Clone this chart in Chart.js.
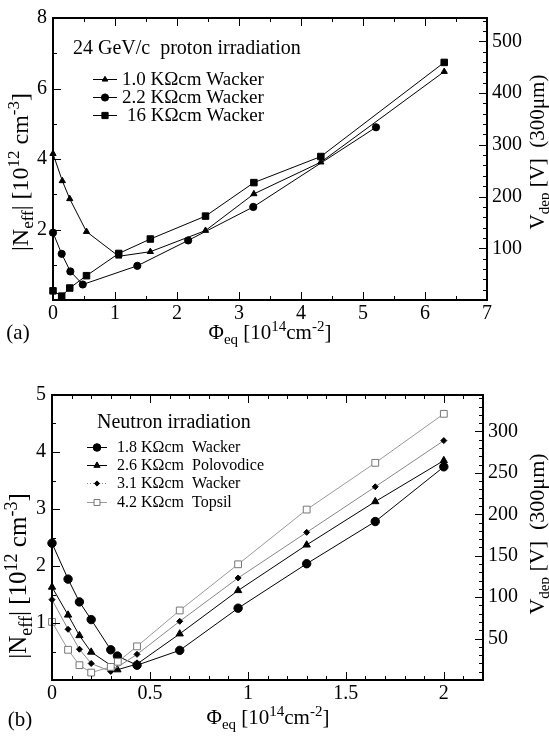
<!DOCTYPE html>
<html>
<head>
<meta charset="utf-8">
<script src="https://cdn.jsdelivr.net/npm/chart.js@4.4.1/dist/chart.umd.min.js"></script>
<style>
html, body { margin: 0; padding: 0; background: #fff; }
#wrap { position: relative; width: 549px; height: 737px; }
canvas { position: absolute; left: 0; }
</style>
</head>
<body>
<div id="wrap">
  <canvas id="protonChart" width="549" height="365" style="top:0"></canvas>
  <canvas id="neutronChart" width="549" height="372" style="top:365px"></canvas>
</div>
<script>
// (a) 24 GeV/c proton irradiation, |Neff| in 1e12 cm^-3 vs fluence in 1e14 cm^-2
const wacker10X = [0, 0.15, 0.27, 0.54, 1.06, 1.57, 2.46, 3.24, 4.32, 6.31];
const wacker10Y = [4.15, 3.38, 2.87, 1.94, 1.24, 1.37, 1.97, 3.01, 3.91, 6.48];
const wacker22X = [0, 0.14, 0.28, 0.48, 1.36, 2.18, 3.23, 5.21];
const wacker22Y = [1.91, 1.31, 0.81, 0.44, 0.97, 1.69, 2.64, 4.90];
const wacker16X = [0, 0.14, 0.27, 0.54, 1.06, 1.57, 2.46, 3.24, 4.32, 6.31];
const wacker16Y = [0.26, 0.11, 0.34, 0.69, 1.32, 1.73, 2.38, 3.33, 4.07, 6.74];

// (b) neutron irradiation
const wacker18X = [0, 0.082, 0.14, 0.2, 0.3, 0.334, 0.434, 0.652, 0.95, 1.3, 1.65, 2.0];
const wacker18Y = [2.40, 1.77, 1.37, 1.06, 0.53, 0.42, 0.26, 0.52, 1.26, 2.04, 2.78, 3.74];
const polo26X = [0, 0.082, 0.14, 0.2, 0.334, 0.434, 0.652, 0.95, 1.3, 1.65, 2.0];
const polo26Y = [1.63, 1.14, 0.78, 0.49, 0.18, 0.28, 0.81, 1.57, 2.37, 3.13, 3.85];
const wacker31X = [0, 0.082, 0.14, 0.2, 0.3, 0.434, 0.652, 0.95, 1.3, 1.65, 2.0];
const wacker31Y = [1.41, 0.89, 0.54, 0.29, 0.15, 0.45, 1.03, 1.79, 2.59, 3.39, 4.20];
const topsil42X = [0, 0.082, 0.14, 0.2, 0.3, 0.336, 0.434, 0.652, 0.95, 1.3, 1.65, 2.0];
const topsil42Y = [1.02, 0.53, 0.26, 0.13, 0.23, 0.32, 0.59, 1.22, 2.03, 2.99, 3.81, 4.67];

// tick labels
const protonXTicks = [0, 1, 2, 3, 4, 5, 6, 7];
const protonNTicks = [2, 4, 6, 8];
const protonVTicks = [100, 200, 300, 400, 500];
const neutronXTicks = [0, 0.5, 1, 1.5, 2];
const neutronNTicks = [1, 2, 3, 4, 5];
const neutronVTicks = [50, 100, 150, 200, 250, 300];

const FONT = '"Liberation Serif", "Times New Roman", serif';
Chart.defaults.font.family = FONT;
Chart.defaults.color = '#000';

function pts(xs, ys) {
    return xs.map((x, i) => ({ x: x, y: ys[i] }));
}

// inward tick marks: [value, length]
function tickList(min, max, step, majorEvery) {
    const out = [];
    const n = Math.round((max - min) / step);
    for (let i = 0; i <= n; i++) {
        const v = +(min + i * step).toFixed(4);
        out.push([v, i % majorEvery === 0 ? 8 : 4]);
    }
    return out;
}

function richText(ctx, parts, x, y, size, rot, align) {
    ctx.save();
    ctx.translate(x, y);
    if (rot) ctx.rotate(rot);
    const small = Math.round(size * 0.7);
    let total = 0;
    const widths = parts.map(p => {
        ctx.font = (p[1] ? small : size) + 'px ' + FONT;
        const w = ctx.measureText(p[0]).width;
        total += w;
        return w;
    });
    let cx = align === 'left' ? 0 : -total / 2;
    ctx.fillStyle = '#000';
    ctx.textBaseline = 'alphabetic';
    ctx.textAlign = 'left';
    parts.forEach((p, i) => {
        ctx.font = (p[1] ? small : size) + 'px ' + FONT;
        let dy = 0;
        if (p[1] === 1) dy = size * 0.22;
        if (p[1] === 2) dy = -size * 0.38;
        ctx.fillText(p[0], cx, size * 0.33 + dy);
        cx += widths[i];
    });
    ctx.restore();
}

function drawMarker(ctx, style, x, y, r, fill, stroke) {
    ctx.save();
    ctx.fillStyle = fill;
    ctx.strokeStyle = stroke;
    ctx.lineWidth = 1;
    ctx.setLineDash([]);
    Chart.helpers.drawPoint(ctx, { pointStyle: style, radius: r, rotation: 0, borderWidth: 1 }, x, y);
    ctx.restore();
}

const framePlugin = {
    id: 'frame',
    afterDatasetsDraw(chart, args, opts) {
        const { ctx, chartArea: a, scales } = chart;
        ctx.save();
        ctx.strokeStyle = '#000';
        ctx.lineWidth = 1;
        ctx.beginPath();
        opts.x.forEach(t => {
            const px = Math.round(scales.x.getPixelForValue(t[0])) + 0.5;
            ctx.moveTo(px, a.bottom); ctx.lineTo(px, a.bottom - t[1]);
            ctx.moveTo(px, a.top); ctx.lineTo(px, a.top + t[1]);
        });
        opts.y.forEach(t => {
            const py = Math.round(scales.y.getPixelForValue(t[0])) + 0.5;
            ctx.moveTo(a.left, py); ctx.lineTo(a.left + t[1], py);
        });
        opts.y2.forEach(t => {
            const py = Math.round(scales.y2.getPixelForValue(t[0])) + 0.5;
            ctx.moveTo(a.right, py); ctx.lineTo(a.right - t[1], py);
        });
        ctx.stroke();
        ctx.lineWidth = 2;
        ctx.strokeRect(a.left, a.top, a.right - a.left, a.bottom - a.top);
        ctx.restore();
    },
    afterDraw(chart, args, opts) {
        const ctx = chart.ctx;
        opts.texts.forEach(t => richText(ctx, t.parts, t.x, t.y, t.size, t.rot || 0, t.align));
        opts.legend.forEach(e => {
            ctx.save();
            ctx.strokeStyle = e.line;
            ctx.lineWidth = 1;
            ctx.setLineDash(e.dash || []);
            ctx.beginPath();
            ctx.moveTo(e.x0, e.y + 0.5);
            ctx.lineTo(e.x1, e.y + 0.5);
            ctx.stroke();
            ctx.restore();
            drawMarker(ctx, e.style, (e.x0 + e.x1) / 2, e.y + 0.5, e.r, e.fill, e.stroke);
            richText(ctx, [[e.label, 0]], e.tx, e.y, e.size, 0, 'left');
        });
    }
};

function axis(pos, min, max, labels, size, padding, fit) {
    return {
        type: 'linear',
        position: pos,
        min: min,
        max: max,
        afterBuildTicks: s => { s.ticks = labels.map(v => ({ value: v })); },
        afterFit: fit,
        grid: { display: false, drawTicks: false },
        border: { display: false },
        ticks: {
            autoSkip: false,
            maxRotation: 0,
            padding: padding,
            font: { size: size },
            color: '#000',
            callback: v => String(v)
        }
    };
}

function series(label, data, style, r, lineColor, fill, stroke, dash) {
    return {
        label: label,
        data: data,
        showLine: true,
        tension: 0,
        borderColor: lineColor,
        borderWidth: 1,
        borderDash: dash || [],
        pointStyle: style,
        pointRadius: r,
        pointHoverRadius: r,
        pointBackgroundColor: fill,
        pointBorderColor: stroke,
        pointBorderWidth: 1,
        clip: false
    };
}

const nTitle = [['|N', 0], ['eff', 1], ['| [10', 0], ['12', 2], [' cm', 0], ['-3', 2], [']', 0]];
const vTitle = [['V', 0], ['dep', 1], [' [V]  (300\u03bcm)', 0]];
const xTitle = [['\u03a6', 0], ['eq', 1], [' [10', 0], ['14', 2], ['cm', 0], ['-2', 2], [']', 0]];

// (a) proton chart
new Chart(document.getElementById('protonChart').getContext('2d'), {
    type: 'scatter',
    data: {
        datasets: [
            series('1.0 K\u03a9cm Wacker', pts(wacker10X, wacker10Y), 'triangle', 3.6, '#000', '#000', '#000'),
            series('2.2 K\u03a9cm Wacker', pts(wacker22X, wacker22Y), 'circle', 3.6, '#000', '#000', '#000'),
            series('16 K\u03a9cm Wacker', pts(wacker16X, wacker16Y), 'rect', 4.6, '#000', '#000', '#000')
        ]
    },
    options: {
        responsive: false,
        animation: false,
        events: [],
        layout: { padding: { top: 12 } },
        scales: {
            x: axis('bottom', 0, 7, protonXTicks, 20, 2, s => { s.height = 65; }),
            y: axis('left', 0, 8, protonNTicks, 20, 6, s => { s.width = 53; }),
            y2: axis('right', 0, 545, protonVTicks, 20, 5, s => { s.width = 62; })
        },
        plugins: {
            legend: { display: false },
            tooltip: { enabled: false },
            frame: {
                x: tickList(0, 7, 0.5, 2),
                y: tickList(0, 8, 1, 2),
                y2: tickList(0, 540, 20, 5),
                texts: [
                    { parts: nTitle, x: 20, y: 172, size: 24, rot: -Math.PI / 2 },
                    { parts: vTitle, x: 537, y: 152, size: 21, rot: -Math.PI / 2 },
                    { parts: xTitle, x: 270, y: 332, size: 21 },
                    { parts: [['(a)', 0]], x: 18, y: 332, size: 21 },
                    { parts: [['24 GeV/c  proton irradiation', 0]], x: 73, y: 47, size: 20, align: 'left' }
                ],
                legend: [
                    { label: '1.0 K\u03a9cm Wacker', y: 79, x0: 93, x1: 117, tx: 122, size: 19, style: 'triangle', r: 3.2, line: '#000', fill: '#000', stroke: '#000' },
                    { label: '2.2 K\u03a9cm Wacker', y: 97, x0: 93, x1: 117, tx: 122, size: 19, style: 'circle', r: 3.6, line: '#000', fill: '#000', stroke: '#000' },
                    { label: '16 K\u03a9cm Wacker', y: 115, x0: 93, x1: 117, tx: 127, size: 19, style: 'rect', r: 4.4, line: '#000', fill: '#000', stroke: '#000' }
                ]
            }
        }
    },
    plugins: [framePlugin]
});

// (b) neutron chart
new Chart(document.getElementById('neutronChart').getContext('2d'), {
    type: 'scatter',
    data: {
        datasets: [
            series('4.2 K\u03a9cm Topsil', pts(topsil42X, topsil42Y), 'rect', 4.8, '#999', '#fff', '#777'),
            series('3.1 K\u03a9cm Wacker', pts(wacker31X, wacker31Y), 'rectRot', 3, '#888', '#000', '#000'),
            series('2.6 K\u03a9cm Polovodice', pts(polo26X, polo26Y), 'triangle', 4.2, '#000', '#000', '#000'),
            series('1.8 K\u03a9cm Wacker', pts(wacker18X, wacker18Y), 'circle', 4.2, '#000', '#000', '#000')
        ]
    },
    options: {
        responsive: false,
        animation: false,
        events: [],
        layout: { padding: { top: 30 } },
        scales: {
            x: axis('bottom', 0, 2.2, neutronXTicks, 20, 2, s => { s.height = 57; }),
            y: axis('left', 0, 5, neutronNTicks, 20, 6, s => { s.width = 52; }),
            y2: axis('right', 0, 344, neutronVTicks, 20, 5, s => { s.width = 66; })
        },
        plugins: {
            legend: { display: false },
            tooltip: { enabled: false },
            frame: {
                x: tickList(0, 2.2, 0.1, 5),
                y: tickList(0, 5, 0.5, 2),
                y2: tickList(0, 340, 10, 5),
                texts: [
                    { parts: nTitle, x: 18, y: 211, size: 25, rot: -Math.PI / 2 },
                    { parts: vTitle, x: 537, y: 169, size: 22, rot: -Math.PI / 2 },
                    { parts: xTitle, x: 268, y: 352, size: 21 },
                    { parts: [['(b)', 0]], x: 20, y: 354, size: 21 },
                    { parts: [['Neutron irradiation', 0]], x: 97, y: 56, size: 20, align: 'left' }
                ],
                legend: [
                    { label: '1.8 K\u03a9cm  Wacker', y: 82, x0: 87, x1: 107, tx: 117, size: 16, style: 'circle', r: 3.8, line: '#000', fill: '#000', stroke: '#000' },
                    { label: '2.6 K\u03a9cm  Polovodice', y: 100, x0: 87, x1: 107, tx: 117, size: 16, style: 'triangle', r: 3.6, line: '#000', fill: '#000', stroke: '#000' },
                    { label: '3.1 K\u03a9cm  Wacker', y: 118, x0: 87, x1: 107, tx: 117, size: 16, style: 'rectRot', r: 2.6, line: '#888', fill: '#000', stroke: '#000', dash: [1, 2] },
                    { label: '4.2 K\u03a9cm  Topsil', y: 137, x0: 87, x1: 107, tx: 117, size: 16, style: 'rect', r: 4.2, line: '#999', fill: '#fff', stroke: '#777' }
                ]
            }
        }
    },
    plugins: [framePlugin]
});
</script>
</body>
</html>
